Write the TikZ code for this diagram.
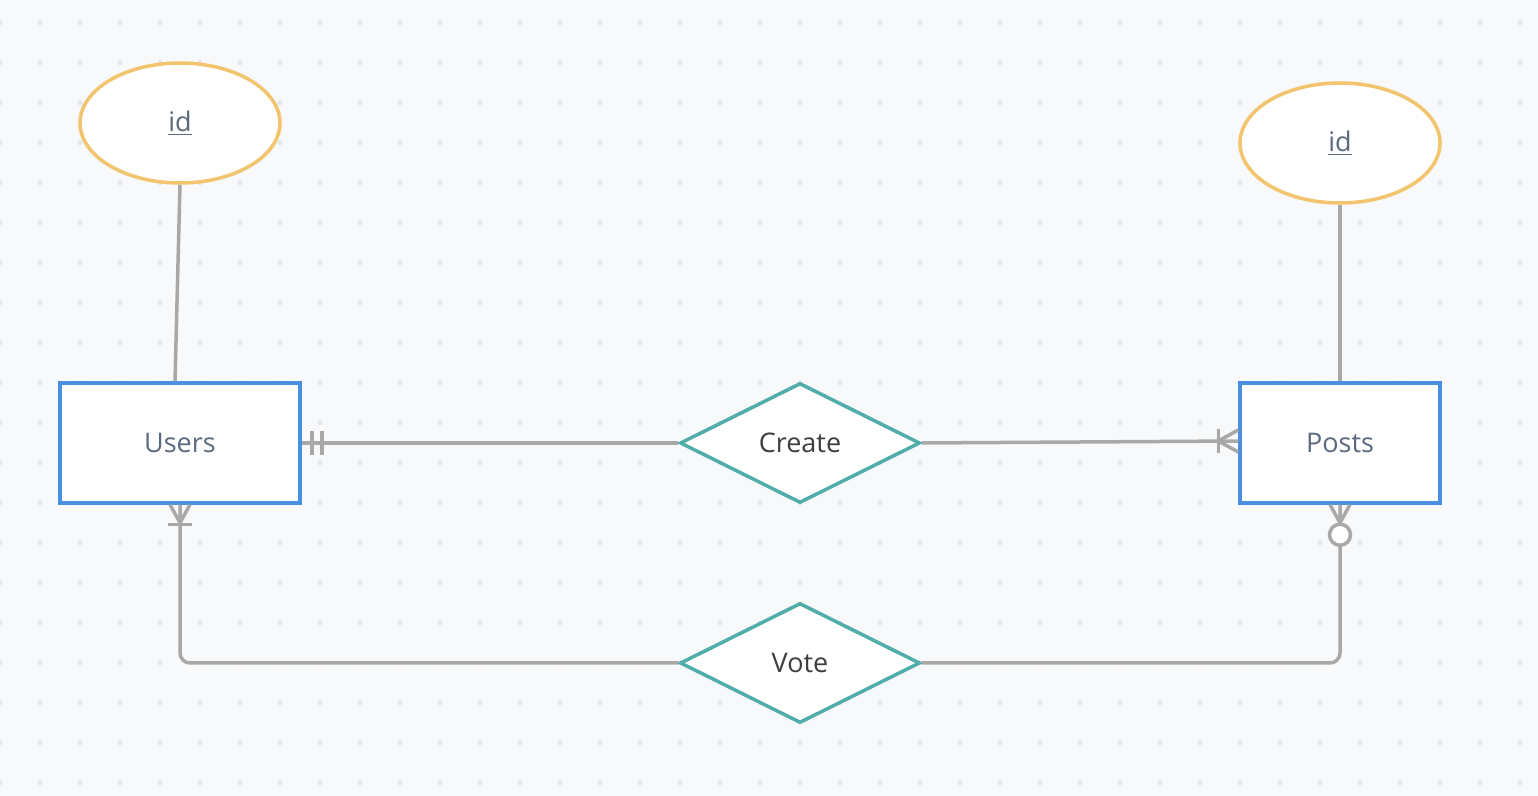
\documentclass[tikz,border=0pt]{standalone}
\usepackage{fontspec}
\setmainfont{Open Sans}
\usetikzlibrary{shapes.geometric,calc}
\definecolor{bg}{HTML}{F8F9FB}
\definecolor{dotc}{HTML}{E3E4E9}
\definecolor{attrc}{HTML}{F2C46D}
\definecolor{entc}{HTML}{4A90E2}
\definecolor{relc}{HTML}{50ADAA}
\definecolor{lnc}{HTML}{A8A8A8}
\definecolor{etxt}{HTML}{5B6A7F}
\definecolor{rtxt}{HTML}{3E3E3E}
\begin{document}
\begin{tikzpicture}[x=0.5pt,y=-0.5pt,
  entity/.style={draw=entc, line width=1.75pt, fill=white, rectangle,
    minimum width=120pt, minimum height=60pt, inner sep=0pt, text=etxt,
    font=\fontsize{13.5}{16}\selectfont},
  attrib/.style={draw=attrc, line width=1.75pt, fill=white, ellipse,
    minimum width=100pt, minimum height=60pt, inner sep=0pt, text=etxt,
    font=\fontsize{13.5}{16}\selectfont},
  relation/.style={draw=relc, line width=1.75pt, fill=white, diamond, aspect=2,
    minimum width=120pt, minimum height=60pt, inner sep=0pt, text=rtxt,
    font=\fontsize{13.5}{16}\selectfont},
  conn/.style={draw=lnc, line width=1.75pt},
  optc/.style={circle, draw=lnc, fill=white, line width=1.75pt, minimum size=10.5pt, inner sep=0pt}
]
\fill[bg] (0,0) rectangle (1538,796);
\useasboundingbox (0,0) rectangle (1538,796);
\foreach \i in {0,...,38} \foreach \j in {0,...,19}
  \fill[dotc] (40*\i, 22.7+40*\j) circle (1.25pt);

\node[attrib] (uid) at (180,123) {\raisebox{-1pt}{\underline{id}}};
\node[attrib] (pid) at (1340,143) {\raisebox{-1pt}{\underline{id}}};
\node[entity] (users) at (180,443) {\raisebox{-0.5pt}{Users}};
\node[entity, minimum width=100pt] (posts) at (1340,443) {\raisebox{-0.5pt}{Posts}};
\node[relation] (create) at (800,443) {\raisebox{-0.5pt}{Create}};
\node[relation] (vote) at (800,663) {\raisebox{-0.5pt}{Vote}};

% attributes
\coordinate (uidfoot) at ($(users.north)+(-5,0)$);
\draw[conn] (uid.south) -- (uidfoot);
\draw[conn] (pid.south) -- (posts.north);

% Users -- Create (one and only one)
\draw[conn] (users.east) -- (create.west);
\draw[conn] ($(users.east)+(10,-12)$) -- ++(0,24);
\draw[conn] ($(users.east)+(20,-12)$) -- ++(0,24);

% Create -- Posts (one or many)
\coordinate (postsin) at ($(posts.west)+(0,-2)$);
\draw[conn] (create.east) -- (postsin);
\draw[conn] ($(postsin)+(-20,-12)$) -- ++(0,24);
\draw[conn] ($(postsin)+(0,-11)$) -- ($(postsin)+(-20,0)$) -- ($(postsin)+(0,11)$);

% Vote -- Users (one or many)
\draw[conn, rounded corners=5pt] (vote.west) -| (users.south);
\draw[conn] ($(users.south)+(-12,20)$) -- ++(24,0);
\draw[conn] ($(users.south)+(-10,0)$) -- ($(users.south)+(0,18)$) -- ($(users.south)+(10,0)$);

% Vote -- Posts (zero or many)
\draw[conn, rounded corners=5pt] (vote.east) -| (posts.south);
\coordinate (crowp) at ($(posts.south)+(0,18)$);
\draw[conn] ($(posts.south)+(-10,0)$) -- (crowp) -- ($(posts.south)+(10,0)$);
\node[optc] (opt) at ($(posts.south)+(0,30)$) {};
\end{tikzpicture}
\end{document}
